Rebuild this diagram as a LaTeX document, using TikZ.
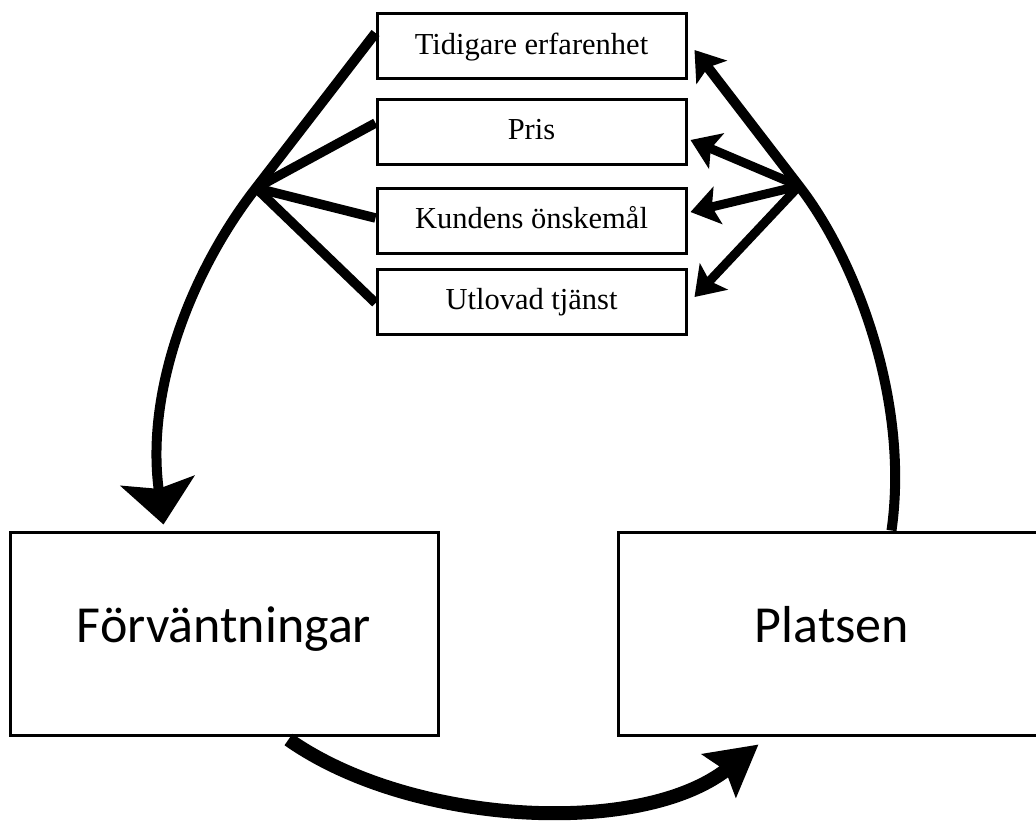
\documentclass[tikz,border=0pt]{standalone}
\usepackage{fontspec}
\setmainfont{Liberation Serif}
\newfontfamily\boxfont{Carlito}
\usetikzlibrary{arrows.meta}

\begin{document}
\begin{tikzpicture}
[x=1pt,y=-1pt,%
  linedecorate/.style={-,line width=9.5pt},%
  arrowdecorate/.style={-{Stealth[length=28pt,width=38pt,inset=6pt]},line width=9pt},%
  curvedecorate/.style={line width=10pt},%
  smallboxdecorate/.style={shape=rectangle,draw,line width=3pt,minimum width=309pt,minimum height=65pt,inner sep=0pt,font=\fontsize{30.5}{36}\selectfont,text height=20pt,text depth=4pt},%
  bigboxdecorate/.style={shape=rectangle,draw,line width=3pt,minimum width=428pt,minimum height=203pt,inner sep=0pt,font=\boxfont\fontsize{52}{62}\selectfont,text height=33pt,text depth=16pt}]
\clip (0,0) rectangle (1036,823);
%% small boxes, top to bottom
\foreach \nodename/\y/\boxtext in {tid/46/Tidigare erfarenhet, pris/131.5/Pris, kund/220.5/Kundens önskemål, utlov/301.5/Utlovad tjänst}
{
  \node (\nodename) at (531.5,\y) [smallboxdecorate] {\boxtext};
}
%% big boxes
\node (forv) at (224,633.5) [bigboxdecorate] {Förväntningar};
\node (plat) at (832,633.5) [bigboxdecorate] {Platsen};
%% meeting points of the lines
\coordinate (lefthub) at (256,188);
\coordinate (righthub) at (799,186);
%% left side
\draw[curvedecorate,-{Stealth[length=44pt,width=74pt,inset=8pt]}] ([yshift=13pt]tid.west) -- (lefthub) .. controls (192,270) and (145,390) .. ([xshift=155pt,yshift=6pt]forv.north west);
\foreach \nodename/\shift in {pris/8.5, kund/2.5, utlov/-1.5}
{
  \draw[linedecorate] (lefthub) -- ([yshift=\shift pt]\nodename.west);
}
%% right side
\draw[curvedecorate,-{Stealth[length=28pt,width=38pt,inset=6pt]}] ([xshift=275pt]plat.north west) .. controls (910,400) and (855,258) .. (righthub) -- ([xshift=7pt,yshift=-4pt]tid.east);
\foreach \nodename/\xs/\ys in {pris/3/-8.5, kund/3/8.5, utlov/7/4.5}
{
  \draw[arrowdecorate] (righthub) -- ([xshift=\xs pt,yshift=\ys pt]\nodename.east);
}
%% bottom
\draw[line width=14pt,-{Stealth[length=50pt,width=54pt,inset=8pt]}] ([xshift=280pt,yshift=-3pt]forv.south west) .. controls (410,825) and (640,838) .. ([xshift=142pt,yshift=-8pt]plat.south west);
\end{tikzpicture}
\end{document}
